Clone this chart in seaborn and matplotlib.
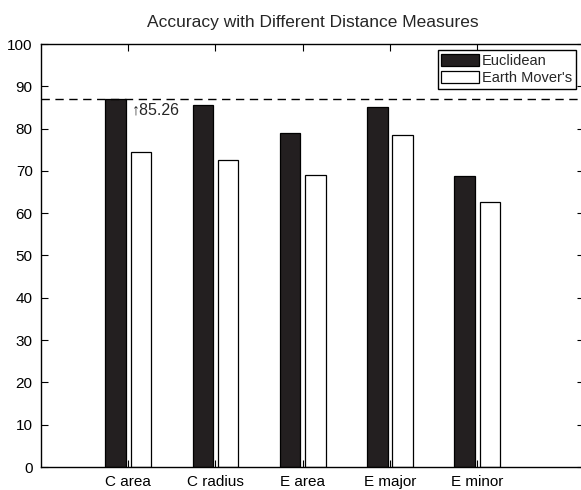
import matplotlib
matplotlib.use("Agg")
import matplotlib.pyplot as plt
import seaborn as sns
import pandas as pd

categories = ["C area", "C radius", "E area", "E major", "E minor"]
euclidean = [87.0, 85.5, 79.0, 85.0, 68.9]
earth_movers = [74.4, 72.5, 69.1, 78.6, 62.7]
series_names = ["Euclidean", "Earth Mover's"]
reference_value = 87.0
annotation_text = "\u219185.26"
annotation_y = 84.4
title = "Accuracy with Different Distance Measures"
yticks = list(range(0, 101, 10))

sns.set_style("white")
plt.rcParams["font.family"] = ["Liberation Sans", "DejaVu Sans"]

df = pd.DataFrame({
    "category": categories * 2,
    "value": euclidean + earth_movers,
    "series": [series_names[0]] * len(categories) + [series_names[1]] * len(categories),
})

fig = plt.figure(figsize=(5.81, 4.90), dpi=100)
ax = fig.add_axes([41 / 581, 23 / 490, (584 - 41) / 581, (467 - 44) / 490])

sns.barplot(data=df, x="category", y="value", hue="series", order=categories,
            hue_order=series_names,
            palette={series_names[0]: "#231f20", series_names[1]: "white"},
            width=0.58, gap=0.19, edgecolor="black", linewidth=0.9,
            saturation=1, errorbar=None, ax=ax)

ax.set_xlim(-1, 5.225)
ax.set_ylim(0, 100)
ax.set_yticks(yticks)
ax.set_xlabel("")
ax.set_ylabel("")

ax.axhline(reference_value, color="black", linestyle=(0, (6, 4)), linewidth=1.0, zorder=3)
ax.text(0.04, annotation_y, annotation_text, fontsize=11.5, va="center", ha="left",
        family=["Liberation Sans", "DejaVu Sans"])

for s in ax.spines.values():
    s.set_visible(True)
    s.set_color("black")
    s.set_linewidth(1.0)

ax.tick_params(axis="both", which="both", direction="in", length=5, width=0.8,
               top=True, right=True, bottom=True, left=True, labelsize=11,
               colors="black", pad=6)

ax.set_title(title, fontsize=12.5, pad=12)

handles, labels = ax.get_legend_handles_labels()
leg = ax.legend(handles, labels, loc="upper right",
                bbox_to_anchor=((576 - 41) / 543, (467 - 50) / 423),
                fontsize=10.5, frameon=True,
                fancybox=False, edgecolor="black", framealpha=1,
                handlelength=2.6, handleheight=0.9, handletextpad=0.2,
                borderpad=0.25, labelspacing=0.25, borderaxespad=0.0)
leg.get_frame().set_linewidth(1.0)

fig.savefig("out.png", dpi=100)
